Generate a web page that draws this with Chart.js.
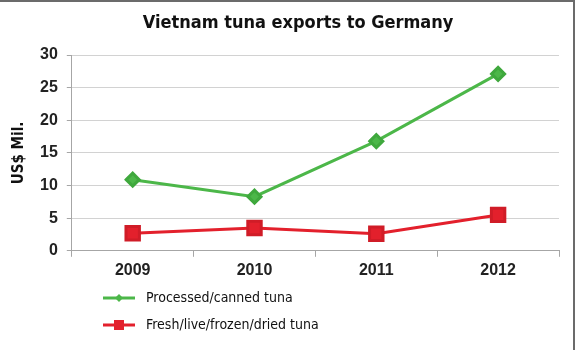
<!DOCTYPE html>
<html>
<head>
<meta charset="utf-8">
<script src="https://cdn.jsdelivr.net/npm/chart.js@4/dist/chart.umd.min.js"></script>
<style>
    html, body { margin: 0; padding: 0; background: #fff; }
    #wrap { width: 576px; height: 350px; position: relative; }
</style>
</head>
<body>
<div id="wrap"><canvas id="tunaChart" width="576" height="350"></canvas></div>
<script>
const years = ['2009', '2010', '2011', '2012'];
const processedTuna = [10.9, 8.3, 16.8, 27.1];
const freshTuna = [2.7, 3.5, 2.6, 5.5];
const yTicks = [0, 5, 10, 15, 20, 25, 30];
const chartTitle = 'Vietnam tuna exports to Germany';

const narrowFont = "'Liberation Sans Narrow', 'DejaVu Sans Condensed', sans-serif";
const tickFont = "'Liberation Sans', Arial, sans-serif";

// white background, thin frame on top and right, and the title
const framePlugin = {
    id: 'frame',
    beforeDraw: function(chart) {
        const ctx = chart.ctx;
        ctx.save();
        ctx.fillStyle = '#fff';
        ctx.fillRect(0, 0, chart.width, chart.height);
        ctx.strokeStyle = '#6b6b6b';
        ctx.lineWidth = 2;
        ctx.beginPath();
        ctx.moveTo(0, 1);
        ctx.lineTo(574, 1);
        ctx.lineTo(574, chart.height);
        ctx.stroke();
        ctx.fillStyle = '#111';
        ctx.font = 'bold 18px ' + narrowFont;
        ctx.textAlign = 'center';
        ctx.textBaseline = 'middle';
        ctx.fillText(chartTitle, 298, 23);
        ctx.restore();
    }
};

// legend below the plot: short line with the marker in the middle
const lineLegend = {
    id: 'lineLegend',
    afterDraw: function(chart) {
        const ctx = chart.ctx;
        ctx.save();
        chart.data.datasets.forEach(function(ds, i) {
            const y = 298 + i * 27;
            const x0 = 103, x1 = 135;
            ctx.strokeStyle = ds.borderColor;
            ctx.lineWidth = 3;
            ctx.beginPath();
            ctx.moveTo(x0, y);
            ctx.lineTo(x1, y);
            ctx.stroke();
            ctx.fillStyle = ds.pointBackgroundColor;
            const cx = (x0 + x1) / 2;
            if (ds.pointStyle === 'rectRot') {
                ctx.beginPath();
                ctx.moveTo(cx, y - 4);
                ctx.lineTo(cx + 4, y);
                ctx.lineTo(cx, y + 4);
                ctx.lineTo(cx - 4, y);
                ctx.closePath();
                ctx.fill();
            } else {
                ctx.fillRect(cx - 5, y - 5, 10, 10);
            }
            ctx.fillStyle = '#111';
            ctx.font = '14px ' + narrowFont;
            ctx.textAlign = 'left';
            ctx.textBaseline = 'middle';
            ctx.fillText(ds.label, 146, y);
        });
        ctx.restore();
    }
};

new Chart(document.getElementById('tunaChart'), {
    type: 'line',
    data: {
        labels: years,
        datasets: [{
            label: 'Processed/canned tuna',
            data: processedTuna,
            borderColor: '#4cb749',
            backgroundColor: '#4cb749',
            pointBackgroundColor: '#4cb749',
            pointBorderColor: '#3fa83d',
            pointStyle: 'rectRot',
            pointRadius: 6.5,
            borderWidth: 3,
            tension: 0
        }, {
            label: 'Fresh/live/frozen/dried tuna',
            data: freshTuna,
            borderColor: '#e3202c',
            backgroundColor: '#e3202c',
            pointBackgroundColor: '#e3202c',
            pointBorderColor: '#d01c27',
            pointStyle: 'rect',
            pointRadius: 9.5,
            borderWidth: 3,
            tension: 0
        }]
    },
    options: {
        responsive: false,
        animation: false,
        layout: {
            padding: { left: 0, right: 17, top: 55, bottom: 66 }
        },
        plugins: {
            legend: { display: false },
            tooltip: { enabled: false },
            title: { display: false }
        },
        scales: {
            x: {
                offset: true,
                border: { color: '#a6a6a6', width: 1 },
                grid: {
                    offset: true,
                    drawOnChartArea: false,
                    drawTicks: true,
                    tickLength: 6,
                    tickColor: '#a6a6a6'
                },
                ticks: {
                    color: '#222',
                    font: { family: tickFont, size: 16, weight: 'bold' },
                    padding: 4
                }
            },
            y: {
                min: 0,
                max: 30,
                afterBuildTicks: function(axis) {
                    axis.ticks = yTicks.map(function(v) { return { value: v }; });
                },
                border: { color: '#a6a6a6', width: 1 },
                grid: {
                    color: '#d2d2d2',
                    borderDash: [2, 2],
                    tickBorderDash: [],
                    tickColor: '#a6a6a6',
                    tickLength: 5
                },
                ticks: {
                    color: '#222',
                    font: { family: tickFont, size: 16, weight: 'bold' },
                    padding: 9
                },
                title: {
                    display: true,
                    text: 'US$ Mil.',
                    color: '#111',
                    font: { family: narrowFont, size: 15, weight: 'bold' },
                    padding: { top: 10, bottom: 3 }
                }
            }
        }
    },
    plugins: [framePlugin, lineLegend]
});
</script>
</body>
</html>
